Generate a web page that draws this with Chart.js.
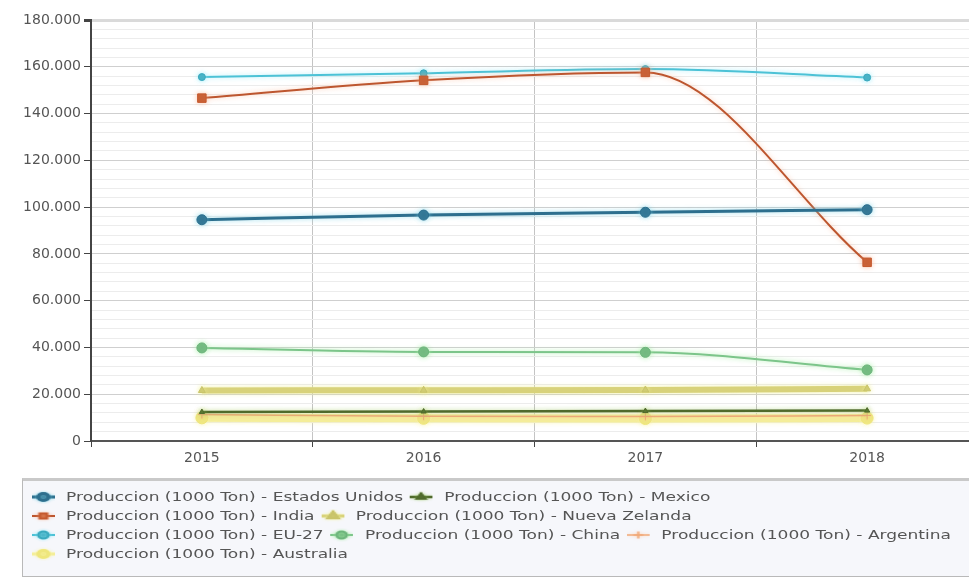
<!DOCTYPE html>
<html>
<head>
<meta charset="utf-8">
<script src="https://cdn.jsdelivr.net/npm/chart.js@4.4.1/dist/chart.umd.min.js"></script>
<style>
  html, body { margin: 0; padding: 0; background: #ffffff; overflow: hidden; }
  body { width: 969px; height: 577px; position: relative; }
  #wrap { position: absolute; left: 0; top: 0; width: 985px; height: 470px; }
  #legend {
    position: absolute; left: 22px; top: 478px; width: 960px; height: 99px;
    box-sizing: border-box; border: 1px solid #b9b9b9; border-top: 3px solid #c9c9c9;
    background: #f6f7fb; padding: 7px 0 0 9px;
    font-family: "DejaVu Sans", Verdana, sans-serif; font-size: 12px; color: #555;
  }
  /* legend rows are drawn in a wide face: horizontally stretched text */
  .row { height: 19px; line-height: 19px; white-space: nowrap; transform: scaleX(1.42); transform-origin: 0 50%; }
  .item { display: inline-block; margin-right: 5px; }
  .sw { display: inline-block; vertical-align: middle; width: 16px; height: 14px; margin-right: 8px; position: relative; top: -1px; }
  .sw canvas { position: absolute; left: 0; top: 0; }
</style>
</head>
<body>
<div id="wrap"><canvas id="c" width="985" height="470"></canvas></div>
<div id="legend"></div>
<script>
// Milk production by country, thousands of tonnes
const years = ['2015', '2016', '2017', '2018'];

const estadosUnidos = [94600, 96600, 97800, 98900];
const india        = [146600, 154200, 157600, 76400];
const euro27       = [155600, 157200, 159000, 155400];
const mexico       = [12400, 12600, 12800, 13000];
const nuevaZelanda = [21600, 21700, 21800, 22300];
const china        = [39800, 38100, 37900, 30400];
const argentina    = [11300, 10600, 10500, 10900];
const australia    = [9900, 9700, 9600, 9800];

const yTicksMajor = 20000;
const yTicksMinor = 4000;

const seriesPrefix = 'Produccion (1000 Ton) - ';

const datasets = [
  { label: seriesPrefix + 'Estados Unidos', data: estadosUnidos, borderColor: '#2d6f8e', backgroundColor: '#2d6f8e', borderWidth: 3, pointStyle: 'circle', pointRadius: 5, glow: 'rgba(120,210,230,0.7)' },
  { label: seriesPrefix + 'Mexico', data: mexico, borderColor: '#4f6a2c', backgroundColor: '#4f6a2c', borderWidth: 2.5, pointStyle: 'triangle', pointRadius: 3, glow: 'rgba(150,200,90,0.6)' },
  { label: seriesPrefix + 'India', data: india, borderColor: '#bd562f', backgroundColor: '#c4592e', borderWidth: 2, pointStyle: 'rect', pointRadius: 6, glow: 'rgba(250,170,130,0.6)' },
  { label: seriesPrefix + 'Nueva Zelanda', data: nuevaZelanda, borderColor: '#d8d27a', backgroundColor: '#c9c46a', borderWidth: 6, pointStyle: 'triangle', pointRadius: 4, glow: 'rgba(240,240,150,0.8)' },
  { label: seriesPrefix + 'EU-27', data: euro27, borderColor: '#4cc2d6', backgroundColor: '#3aa9be', borderWidth: 2, pointStyle: 'circle', pointRadius: 3.5, glow: 'rgba(150,235,250,0.8)' },
  { label: seriesPrefix + 'China', data: china, borderColor: '#7cc58a', backgroundColor: '#6db47c', borderWidth: 2, pointStyle: 'circle', pointRadius: 5, glow: 'rgba(170,240,170,0.9)' },
  { label: seriesPrefix + 'Argentina', data: argentina, borderColor: '#f0a878', backgroundColor: '#f0a878', borderWidth: 1.5, pointStyle: 'cross', pointRadius: 4, glow: 'rgba(255,200,160,0.6)' },
  { label: seriesPrefix + 'Australia', data: australia, borderColor: '#f4ee9a', backgroundColor: '#eee67c', borderWidth: 8, pointStyle: 'circle', pointRadius: 6, glow: 'rgba(250,245,170,0.8)' }
];

datasets.forEach(d => {
  d.cubicInterpolationMode = 'monotone';
  d.pointBorderColor = d.backgroundColor;
  d.pointBorderWidth = 1;
  d.fill = false;
});

// Draw order: light bands first so darker lines stay on top
const drawOrder = ['Australia', 'Nueva Zelanda', 'Argentina', 'Mexico', 'China', 'EU-27', 'India', 'Estados Unidos'];
datasets.forEach(d => {
  const name = d.label.replace(seriesPrefix, '');
  d.order = drawOrder.length - drawOrder.indexOf(name);
});

// Legend rows
const legendRows = [
  ['Estados Unidos', 'Mexico'],
  ['India', 'Nueva Zelanda'],
  ['EU-27', 'China', 'Argentina'],
  ['Australia']
];

// Soft halo around each series
const glowPlugin = {
  id: 'glow',
  beforeDatasetDraw(chart, args) {
    const ds = chart.data.datasets[args.index];
    const ctx = chart.ctx;
    ctx.save();
    ctx.shadowColor = ds.glow || 'transparent';
    ctx.shadowBlur = 5;
  },
  afterDatasetDraw(chart) {
    chart.ctx.restore();
  }
};

const axisFont = { family: '"DejaVu Sans", Verdana, sans-serif', size: 14 };

const chart = new Chart(document.getElementById('c'), {
  type: 'line',
  data: { labels: years, datasets: datasets },
  plugins: [glowPlugin],
  options: {
    responsive: false,
    animation: false,
    layout: { padding: { top: 20, right: 6, bottom: 0, left: 0 } },
    plugins: { legend: { display: false }, tooltip: { enabled: false } },
    scales: {
      x: {
        offset: true,
        grid: { offset: true, color: '#c4c4c4', lineWidth: 1, tickLength: 6, tickColor: '#444', drawTicks: true },
        border: { color: '#555', width: 2 },
        ticks: { color: '#555', font: axisFont, padding: 3 },
        afterFit(scale) { scale.height = 29; }
      },
      y: {
        min: 0, max: 180000,
        grid: {
          color: ctx => {
            const v = ctx.tick ? ctx.tick.value : 0;
            if (v === 180000) return '#dadada';
            return v % yTicksMajor === 0 ? '#cfcfcf' : '#ececec';
          },
          lineWidth: ctx => (ctx.tick && ctx.tick.value === 180000 ? 3 : 1),
          tickLength: 7,
          tickColor: ctx => (ctx.tick && ctx.tick.value % yTicksMajor === 0 ? '#444' : 'rgba(0,0,0,0)')
        },
        border: { color: '#444', width: 2 },
        ticks: {
          stepSize: yTicksMinor,
          autoSkip: false,
          color: '#555',
          font: axisFont,
          padding: 3,
          callback: v => (v % yTicksMajor === 0 ? (v === 0 ? '0' : v.toLocaleString('de-DE')) : '')
        },
        afterFit(scale) { scale.width = 91; }
      }
    }
  }
});

// HTML legend built from the chart datasets
const legendEl = document.getElementById('legend');
legendRows.forEach(row => {
  const rowEl = document.createElement('div');
  rowEl.className = 'row';
  row.forEach(name => {
    const ds = datasets.find(d => d.label === seriesPrefix + name);
    const item = document.createElement('span');
    item.className = 'item';
    const sw = document.createElement('span');
    sw.className = 'sw';
    const cv = document.createElement('canvas');
    cv.width = 16; cv.height = 14;
    const g = cv.getContext('2d');
    g.shadowColor = ds.glow; g.shadowBlur = 3;
    g.strokeStyle = ds.borderColor;
    g.lineWidth = Math.min(ds.borderWidth, 3);
    g.beginPath(); g.moveTo(0, 7); g.lineTo(16, 7); g.stroke();
    g.fillStyle = ds.backgroundColor; g.strokeStyle = ds.backgroundColor;
    Chart.helpers.drawPoint(g, { pointStyle: ds.pointStyle, radius: Math.min(ds.pointRadius, 3.5), borderWidth: 1.5 }, 8, 7);
    sw.appendChild(cv);
    item.appendChild(sw);
    item.appendChild(document.createTextNode(ds.label));
    rowEl.appendChild(item);
  });
  legendEl.appendChild(rowEl);
});
</script>
</body>
</html>
